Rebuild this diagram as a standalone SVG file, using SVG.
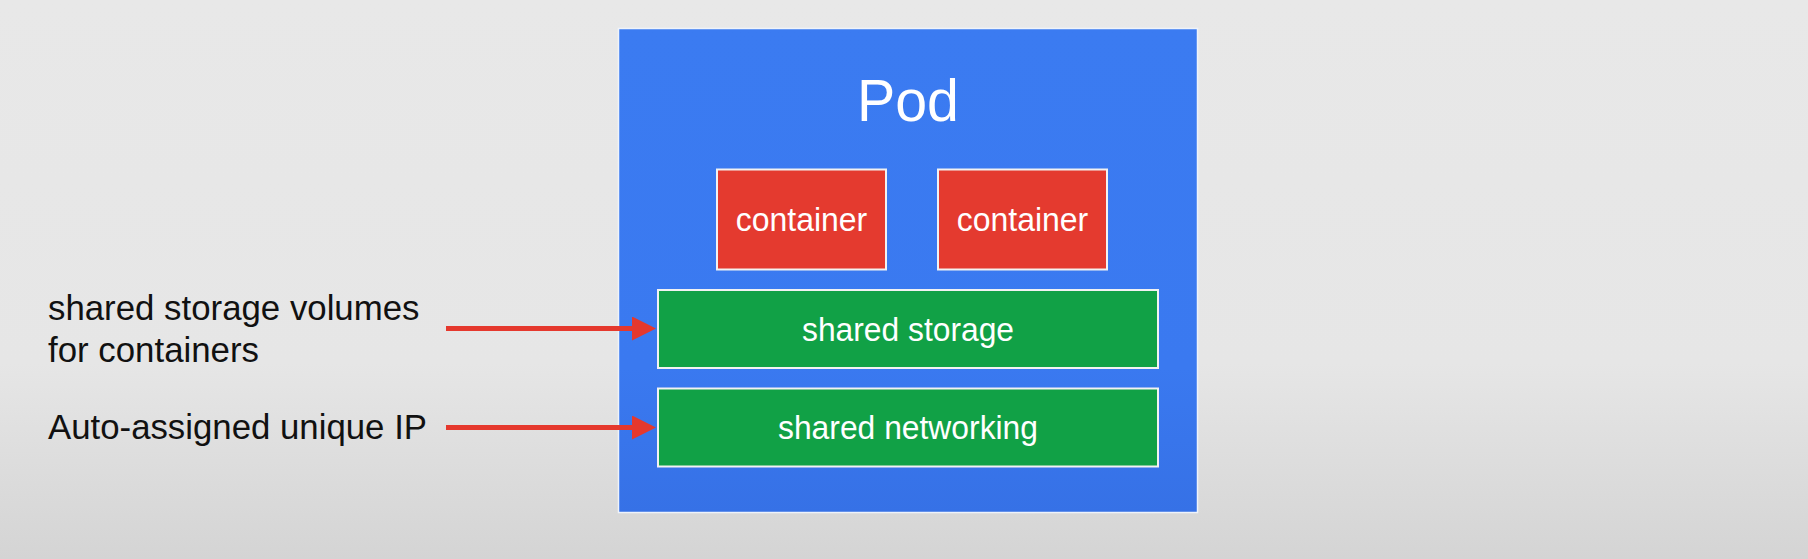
<svg xmlns="http://www.w3.org/2000/svg" width="1808" height="559" viewBox="0 0 1808 559">
  <defs>
    <linearGradient id="bg" x1="0" y1="0" x2="0" y2="1">
      <stop offset="0" stop-color="#e8e8e8"/>
      <stop offset="0.65" stop-color="#e6e6e6"/>
      <stop offset="1" stop-color="#d4d4d4"/>
    </linearGradient>
    <linearGradient id="podfill" x1="0" y1="0" x2="0" y2="1">
      <stop offset="0" stop-color="#3b7bf1"/>
      <stop offset="0.7" stop-color="#3a79f0"/>
      <stop offset="1" stop-color="#3671e6"/>
    </linearGradient>
    <marker id="arrowhead" markerUnits="userSpaceOnUse" markerWidth="24" markerHeight="24" refX="8" refY="12" orient="auto">
      <path d="M0,0 L24,12 L0,24 Z" fill="#e5382d"/>
    </marker>
    <style>
      .label { font-family: "Liberation Sans", Arial, Helvetica, sans-serif; }
      .white { fill: #ffffff; }
      .black { fill: #111111; }
      .container { fill: #e43a2f; stroke: #f2f2f2; stroke-width: 2; }
      .shared { fill: #11a146; stroke: #f2f2f2; stroke-width: 2; }
      .arrow { stroke: #e5382d; stroke-width: 5; fill: none; marker-end: url(#arrowhead); }
    </style>
  </defs>

  <rect x="0" y="0" width="1808" height="559" fill="url(#bg)"/>

  <g id="pod">
    <rect x="618.5" y="28.5" width="579" height="484" fill="url(#podfill)" stroke="#eef3fb" stroke-width="1.5"/>
    <text class="label white" x="908" y="121" font-size="60" text-anchor="middle" textLength="102" lengthAdjust="spacingAndGlyphs">Pod</text>
  </g>

  <g id="container1">
    <rect class="container" x="717" y="169.5" width="169" height="100"/>
    <text class="label white" x="801.5" y="231" font-size="34" text-anchor="middle" textLength="131.5" lengthAdjust="spacingAndGlyphs">container</text>
  </g>

  <g id="container2">
    <rect class="container" x="938" y="169.5" width="169" height="100"/>
    <text class="label white" x="1022.5" y="231" font-size="34" text-anchor="middle" textLength="131.5" lengthAdjust="spacingAndGlyphs">container</text>
  </g>

  <g id="shared-storage">
    <rect class="shared" x="658" y="290" width="500" height="78"/>
    <text class="label white" x="908" y="340.5" font-size="34" text-anchor="middle" textLength="212" lengthAdjust="spacingAndGlyphs">shared storage</text>
  </g>

  <g id="shared-networking">
    <rect class="shared" x="658" y="388.5" width="500" height="78"/>
    <text class="label white" x="908" y="439" font-size="34" text-anchor="middle" textLength="260" lengthAdjust="spacingAndGlyphs">shared networking</text>
  </g>

  <g id="storage-note">
    <text class="label black" x="48" y="320" font-size="34.5" textLength="371.5" lengthAdjust="spacingAndGlyphs">shared storage volumes</text>
    <text class="label black" x="48" y="361.5" font-size="34.5" textLength="211" lengthAdjust="spacingAndGlyphs">for containers</text>
  </g>

  <g id="ip-note">
    <text class="label black" x="48" y="438.5" font-size="34.5" textLength="379" lengthAdjust="spacingAndGlyphs">Auto-assigned unique IP</text>
  </g>

  <g id="connectors">
    <line class="arrow" x1="446" y1="328.5" x2="640" y2="328.5"/>
    <line class="arrow" x1="446" y1="427.5" x2="640" y2="427.5"/>
  </g>
</svg>
